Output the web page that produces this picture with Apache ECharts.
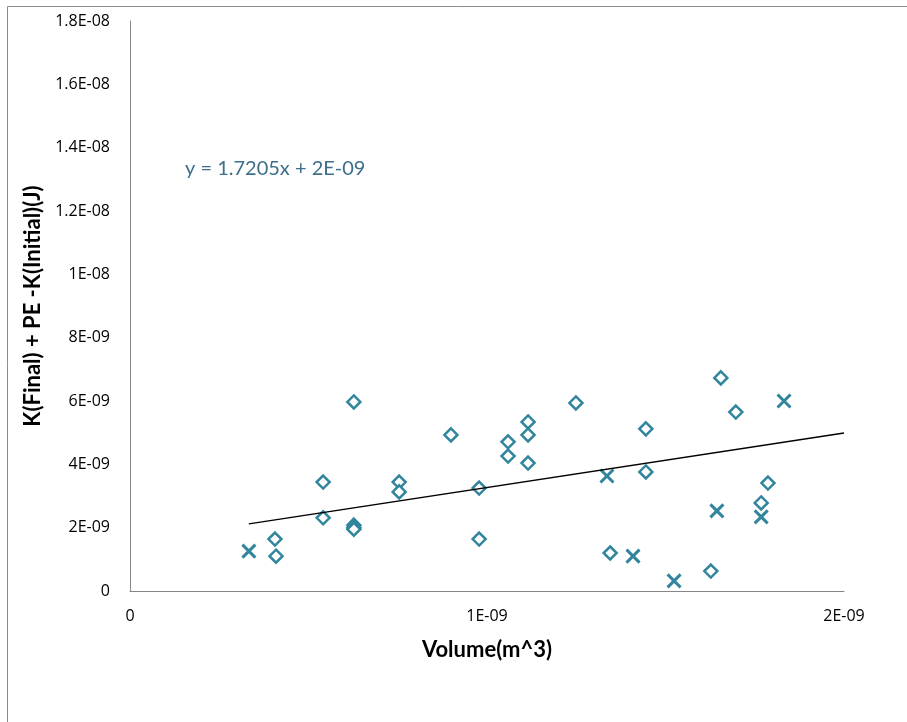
<!DOCTYPE html>
<html>
<head>
<meta charset="utf-8">
<script src="https://cdn.jsdelivr.net/npm/echarts@6/dist/echarts.min.js"></script>
<style>
  html, body { margin: 0; padding: 0; background: #fff; }
  #viz { width: 907px; height: 722px; }
</style>
</head>
<body>
<div id="viz"></div>
<script>
// diamond markers [volume (m^3), energy (J)]
const diamondPoints = [
  [0.406e-9, 1.64e-9], [0.409e-9, 1.10e-9],
  [0.541e-9, 3.44e-9], [0.541e-9, 2.31e-9],
  [0.627e-9, 5.97e-9], [0.627e-9, 2.08e-9], [0.627e-9, 2.00e-9], [0.627e-9, 1.95e-9],
  [0.754e-9, 3.44e-9], [0.754e-9, 3.13e-9],
  [0.899e-9, 4.93e-9],
  [0.978e-9, 3.25e-9], [0.978e-9, 1.64e-9],
  [1.059e-9, 4.71e-9], [1.059e-9, 4.26e-9],
  [1.115e-9, 5.34e-9], [1.115e-9, 4.93e-9], [1.115e-9, 4.04e-9],
  [1.249e-9, 5.94e-9],
  [1.345e-9, 1.20e-9],
  [1.445e-9, 5.12e-9], [1.445e-9, 3.76e-9],
  [1.627e-9, 0.63e-9],
  [1.655e-9, 6.73e-9],
  [1.697e-9, 5.65e-9],
  [1.768e-9, 2.78e-9],
  [1.787e-9, 3.41e-9]
]

// cross markers
const crossPoints = [
  [0.333e-9, 1.26e-9],
  [1.336e-9, 3.63e-9],
  [1.409e-9, 1.10e-9],
  [1.524e-9, 0.32e-9],
  [1.644e-9, 2.53e-9],
  [1.768e-9, 2.34e-9],
  [1.832e-9, 6.00e-9]
]

// linear trendline end points
const trendPoints = [
  [0.333e-9, 2.12e-9],
  [2.0e-9, 4.99e-9]
]

const equation = 'y = 1.7205x + 2E-09'

const teal = '#31859C'
const font = 'Lato, "Open Sans", sans-serif'
const tickFont = '"Open Sans", Lato, sans-serif'

// Excel "General" style: 2E-09, 1.2E-08
const excelFmt = (v) => {
  if (Math.abs(v) < 1e-20) return '0'
  const [m, e] = v.toExponential(4).split('e')
  const mant = String(parseFloat(m))
  const ex = parseInt(e, 10)
  const sign = ex < 0 ? '-' : '+'
  return mant + 'E' + sign + String(Math.abs(ex)).padStart(2, '0')
}

const myChart = echarts.init(document.getElementById('viz'))

myChart.setOption({
  animation: false,
  textStyle: { fontFamily: font },
  grid: { left: 130, right: 63, top: 21, bottom: 131 },
  graphic: [
    {
      type: 'rect',
      silent: true,
      shape: { x: 7.5, y: 6.5, width: 1000, height: 1000 },
      style: { fill: 'none', stroke: '#8c8c8c', lineWidth: 1 },
    },
    {
      type: 'text',
      left: 185,
      top: 159,
      style: {
        text: equation,
        fill: '#3d6f8a',
        font: '20px ' + font,
      },
    },
  ],
  xAxis: {
    type: 'value',
    min: 0,
    max: 2e-9,
    interval: 1e-9,
    name: 'Volume(m^3)',
    nameLocation: 'middle',
    nameGap: 48,
    nameTextStyle: { fontWeight: 'bold', fontSize: 22, color: '#000' },
    axisLine: { lineStyle: { color: '#868686', width: 1 } },
    axisTick: { show: false },
    splitLine: { show: false },
    axisLabel: { formatter: excelFmt, fontFamily: tickFont, fontSize: 16, color: '#000', margin: 17 },
  },
  yAxis: {
    type: 'value',
    min: 0,
    max: 1.8e-8,
    interval: 2e-9,
    name: 'K(Final) + PE -K(Initial)(J)',
    nameLocation: 'middle',
    nameGap: 85,
    nameTextStyle: { fontWeight: 'bold', fontSize: 22, color: '#000' },
    axisLine: { show: true, lineStyle: { color: '#868686', width: 1 } },
    axisTick: { show: false },
    splitLine: { show: false },
    axisLabel: { formatter: excelFmt, fontFamily: tickFont, fontSize: 16, color: '#000', margin: 20 },
  },
  series: [
    {
      name: 'diamonds',
      type: 'scatter',
      symbol: 'diamond',
      symbolSize: 13,
      data: diamondPoints,
      itemStyle: { color: '#fff', opacity: 1, borderColor: teal, borderWidth: 2.5 },
      z: 3,
    },
    {
      name: 'crosses',
      type: 'scatter',
      symbol: 'path://M0,0L10,10M10,0L0,10',
      symbolSize: 13,
      data: crossPoints,
      itemStyle: { color: 'none', opacity: 1, borderColor: teal, borderWidth: 3 },
      z: 3,
    },
    {
      name: 'trend',
      type: 'line',
      symbol: 'none',
      data: trendPoints,
      lineStyle: { color: '#000', width: 1.5 },
      z: 4,
    },
  ],
})
</script>
</body>
</html>
